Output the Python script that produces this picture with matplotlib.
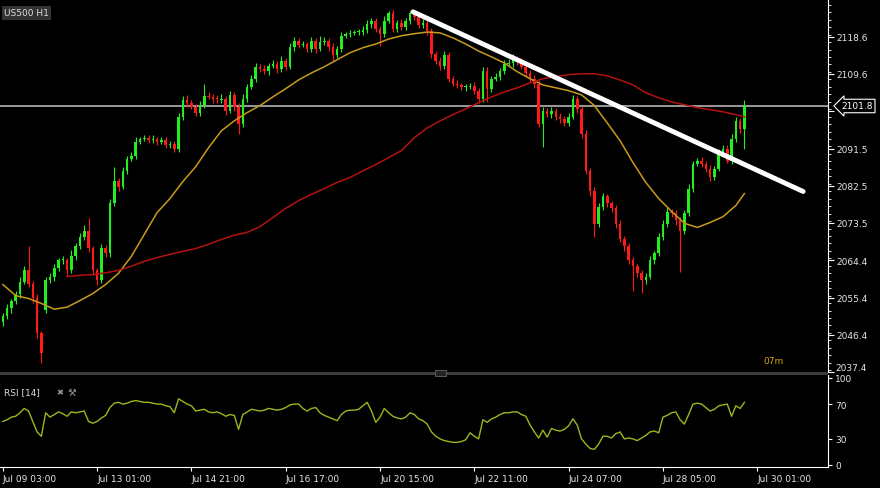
import numpy as np
import matplotlib.pyplot as plt
import matplotlib.transforms as mtransforms
from matplotlib.patches import Rectangle

# 2-hour bars (close prices)
close = [
    2050.9, 2052.8, 2054.5, 2056.2, 2059.3, 2062.0, 2058.8, 2055.2, 2046.8, 2041.9,
    2059.6, 2060.5, 2062.5, 2064.4, 2064.4, 2062.0, 2065.4, 2067.8, 2070.2, 2071.6,
    2067.3, 2062.0, 2059.6, 2067.3, 2066.1, 2078.2, 2083.7, 2082.3, 2086.1, 2089.0,
    2089.8, 2093.2, 2093.9, 2094.1, 2093.6, 2093.9, 2093.2, 2093.6, 2092.4, 2092.7,
    2091.5, 2099.2, 2103.3, 2102.6, 2101.6, 2100.2, 2102.1, 2104.3, 2104.0, 2103.5,
    2103.3, 2103.5, 2100.6, 2104.5, 2101.6, 2097.5, 2103.5, 2106.4, 2108.4, 2111.3,
    2110.8, 2110.3, 2111.5, 2112.0, 2110.8, 2112.7, 2111.3, 2116.1, 2117.6, 2116.6,
    2116.8, 2115.6, 2117.6, 2115.6, 2117.3, 2117.6, 2116.1, 2114.2, 2115.6, 2118.8,
    2119.2, 2119.5, 2119.7, 2119.7, 2120.2, 2121.7, 2122.4, 2120.5, 2119.2, 2122.4,
    2124.3, 2120.5, 2121.9, 2120.9, 2122.4, 2124.3, 2123.4, 2121.4, 2121.9, 2120.0,
    2114.4, 2112.7, 2111.5, 2114.2, 2108.4, 2107.2, 2106.9, 2106.4, 2106.4, 2106.7,
    2105.5, 2103.5, 2110.3, 2106.0, 2108.4, 2108.9, 2110.3, 2112.0, 2112.2, 2113.2,
    2112.5, 2111.3, 2109.8, 2108.4, 2107.2, 2097.5, 2100.6, 2099.9, 2100.6, 2099.2,
    2098.7, 2097.7, 2099.2, 2103.5, 2101.1, 2095.1, 2086.1, 2081.3, 2073.3, 2077.4,
    2079.9, 2078.2, 2077.0, 2073.3, 2069.7, 2067.8, 2064.4, 2063.0, 2061.3, 2059.6,
    2060.5, 2064.4, 2066.1, 2070.2, 2073.3, 2076.2, 2075.8, 2074.1, 2071.6, 2075.8,
    2081.8, 2087.8, 2088.6, 2087.8, 2086.6, 2084.7, 2086.6, 2090.3, 2091.5, 2088.6,
    2093.9, 2098.2, 2096.3, 2101.8,
]
first_open = 2049.5
gap_open = {10: 2052.5}

up_wick = [
    0.8, 1.0, 0.6, 0.9, 1.2, 1.0, 5.8, 0.7, 1.1, 0.6,
    0.9, 0.8, 1.0, 0.7, 1.2, 0.6, 1.5, 0.9, 0.8, 1.5,
    3.0, 0.7, 0.6, 1.0, 0.8, 1.1, 3.4, 0.7, 0.9, 0.6,
    0.8, 1.0, 0.5, 0.7, 0.6, 0.9, 0.5, 0.8, 0.6, 0.7,
    0.6, 1.0, 0.9, 1.2, 0.7, 0.8, 1.0, 2.9, 0.8, 0.6,
    0.9, 1.1, 0.7, 1.0, 0.8, 0.9, 1.2, 0.7, 1.0, 0.8,
    0.6, 0.9, 0.7, 1.0, 0.8, 1.1, 0.6, 0.9, 1.0, 0.7,
    0.8, 0.6, 1.0, 0.7, 1.4, 0.8, 0.6, 0.9, 0.7, 1.0,
    0.6, 0.8, 0.5, 0.7, 0.9, 1.0, 0.8, 0.6, 0.7, 1.1,
    0.4, 0.8, 0.7, 0.9, 0.6, 0.4, 0.3, 0.8, 0.9, 0.7,
    0.8, 0.6, 1.0, 0.9, 0.7, 0.6, 0.8, 0.5, 0.7, 0.6,
    0.8, 0.6, 1.0, 0.9, 0.7, 0.8, 0.6, 1.0, 0.9, 1.1,
    0.7, 0.8, 0.6, 0.7, 0.9, 0.8, 1.0, 0.7, 0.9, 0.6,
    0.8, 0.7, 0.9, 1.0, 0.8, 0.6, 0.9, 0.7, 0.8, 1.0,
    0.9, 0.7, 0.6, 0.8, 1.0, 0.7, 0.9, 0.8, 0.6, 0.7,
    0.8, 1.0, 0.7, 0.9, 0.8, 1.1, 0.7, 0.8, 0.9, 0.7,
    1.0, 0.8, 0.7, 0.9, 0.6, 0.8, 0.7, 1.0, 0.9, 0.8,
    1.0, 0.9, 0.8, 1.5,
]
low_wick = [
    0.9, 0.7, 1.0, 0.6, 0.8, 0.7, 0.9, 1.0, 1.2, 2.4,
    0.8, 0.7, 1.0, 0.6, 0.9, 1.3, 0.7, 0.8, 0.6, 0.9,
    0.8, 1.0, 1.2, 0.7, 0.9, 0.8, 0.6, 1.0, 0.7, 0.8,
    0.6, 0.9, 0.7, 0.6, 0.8, 0.7, 0.9, 0.6, 0.8, 0.7,
    0.9, 0.8, 0.7, 1.0, 0.6, 0.9, 0.8, 0.7, 0.6, 0.9,
    0.7, 0.8, 1.0, 0.6, 0.9, 2.4, 0.8, 0.7, 0.6, 0.9,
    0.8, 0.7, 0.9, 0.6, 1.0, 0.7, 0.8, 0.6, 0.9, 0.7,
    0.6, 0.8, 0.7, 0.9, 0.6, 0.8, 1.0, 1.5, 0.7, 0.8,
    0.6, 0.7, 0.5, 0.8, 0.6, 0.7, 0.9, 0.8, 2.8, 0.7,
    0.6, 0.9, 0.7, 0.8, 0.6, 0.7, 0.9, 0.8, 0.6, 1.0,
    0.9, 0.8, 1.0, 0.7, 0.9, 0.6, 0.8, 0.7, 0.9, 0.6,
    0.8, 1.0, 0.7, 3.2, 0.9, 0.6, 0.8, 0.7, 0.6, 0.9,
    0.8, 0.6, 0.9, 0.7, 1.0, 0.9, 5.6, 0.8, 1.0, 0.7,
    0.9, 0.8, 0.7, 0.6, 0.9, 1.0, 0.8, 1.2, 3.1, 0.9,
    0.7, 0.8, 0.9, 1.0, 0.8, 1.1, 0.9, 6.1, 1.0, 3.0,
    0.9, 0.7, 0.8, 0.6, 0.9, 0.7, 0.8, 1.0, 9.9, 0.8,
    0.7, 0.9, 0.6, 0.8, 0.7, 1.0, 0.8, 0.6, 0.9, 0.7,
    0.8, 0.7, 1.1, 4.8,
]

rsi = [
    50, 52, 55, 56, 60, 65, 62, 50, 38, 33,
    60, 55, 58, 61, 59, 56, 61, 60, 61, 62,
    50, 48, 50, 54, 57, 66, 71, 72, 70, 71,
    73, 74, 73, 72, 72, 71, 70, 70, 68, 67,
    60, 76, 73, 70, 68, 62, 63, 64, 61, 60,
    61, 59, 56, 58, 57, 41, 58, 61, 64, 63,
    62, 63, 65, 64, 63, 64, 66, 69, 70, 70,
    65, 62, 65, 66, 60, 57, 55, 53, 51, 58,
    62, 63, 63, 64, 68, 72, 62, 49, 55, 65,
    60, 56, 54, 53, 55, 60, 58, 53, 51, 47,
    38, 33, 30, 28, 27, 26, 26, 27, 29, 37,
    33, 30, 52, 49, 53, 55, 58, 60, 60, 61,
    61, 58, 56, 46, 38, 31, 40, 32, 42, 40,
    39, 41, 45, 53, 46, 30, 24, 19, 18, 24,
    33, 33, 31, 36, 38, 30, 31, 30, 28, 31,
    34, 38, 39, 37, 55, 57, 60, 61, 52, 47,
    58, 70, 71, 70, 66, 62, 64, 68, 69, 70,
    56, 68, 65, 72,
]

# moving averages, read every 3 bars (plus the last bar)
ma_fast = [
    2058.6, 2055.9, 2055.2, 2054.0, 2052.6, 2053.1, 2054.7, 2056.4, 2058.6, 2061.3,
    2065.4, 2070.7, 2076.0, 2079.4, 2083.5, 2087.1, 2091.7, 2095.8, 2098.2, 2100.2,
    2101.9, 2104.0, 2106.0, 2108.1, 2109.8, 2111.3, 2113.0, 2114.7, 2115.9, 2116.8,
    2118.0, 2118.8, 2119.3, 2119.7, 2119.5, 2118.3, 2116.8, 2115.1, 2113.7, 2112.2,
    2110.1, 2108.4, 2106.9, 2106.2, 2105.5, 2104.5, 2101.9, 2097.7, 2093.4, 2088.1,
    2083.3, 2079.4, 2076.3, 2073.4, 2072.4, 2073.6, 2075.0, 2077.7, 2080.6,
]
ma_slow = [
    2060.5, 2060.8, 2061.0, 2061.4, 2062.0, 2063.0, 2064.2, 2065.1, 2065.9, 2066.6,
    2067.3, 2068.3, 2069.5, 2070.5, 2071.2, 2072.6, 2074.8, 2077.0, 2078.9, 2080.4,
    2081.8, 2083.3, 2084.5, 2086.1, 2087.6, 2089.3, 2091.0, 2094.1, 2096.5, 2098.2,
    2099.7, 2101.1, 2102.6, 2104.0, 2105.2, 2106.2, 2107.4, 2108.4, 2108.9, 2109.4,
    2109.6, 2109.6, 2109.1, 2108.1, 2106.9, 2105.0, 2103.8, 2102.8, 2102.1, 2101.4,
    2100.9, 2100.4, 2099.7, 2099.2,
]

trend_bars = [95.7, 186.7]
trend_price = [2124.6, 2081.1]
last_price = 2101.8

price_ticks = [2037.4, 2046.4, 2055.4, 2064.4, 2073.5, 2082.5, 2091.5, 2100.6, 2109.6, 2118.6]
rsi_ticks = [0, 30, 70, 100]
date_labels = ['Jul 09 03:00', 'Jul 13 01:00', 'Jul 14 21:00', 'Jul 16 17:00', 'Jul 20 15:00',
               'Jul 22 11:00', 'Jul 24 07:00', 'Jul 28 05:00', 'Jul 30 01:00']
date_step = 22

W, H = 880, 489
fig = plt.figure(figsize=(W / 100, H / 100), dpi=100, facecolor='black')
ax = fig.add_axes([0, 1 - 373 / H, 828 / W, 373 / H], facecolor='black')
ax2 = fig.add_axes([0, 1 - 468 / H, 828 / W, (468 - 376) / H], facecolor='black')

n = len(close)
x = np.arange(n)
c = np.array(close)
opens = np.r_[first_open, c[:-1]]
for k, v in gap_open.items():
    opens[k] = v
hi = np.maximum(opens, c) + np.array(up_wick)
lo = np.minimum(opens, c) - np.array(low_wick)
col = np.where(c >= opens, '#22ee22', '#ff1a1a')

ax.axhline(last_price, color='#b4b4b4', lw=1.2, zorder=1)
ax.vlines(x, lo, hi, colors=col, lw=0.8, zorder=2)
body = np.where(np.abs(c - opens) < 0.25, 0.25, c - opens)
ax.bar(x, body, bottom=opens, width=0.6, color=col, lw=0, zorder=2)

fast_idx = list(range(0, n - 2, 3)) + [n - 1]
slow_idx = list(range(15, n - 2, 3)) + [n - 1]
ax.plot(fast_idx, ma_fast, color='#c89b18', lw=1.1, zorder=3)
ax.plot(slow_idx, ma_slow, color='#b3120f', lw=1.1, zorder=3)
ax.plot(trend_bars, trend_price, color='white', lw=3.5, solid_capstyle='round', zorder=5)

ax.set_xlim(-0.65, 192.5)
ax.set_ylim(2037.4, 2127.7)
ax.yaxis.tick_right()
# the bottom label is placed by hand, the 2100.6 one sits under the price tag
labels = ['' if t in (2037.4, 2100.6) else f'{t:.1f}' for t in price_ticks]
ax.set_yticks(price_ticks, labels)
ax.yaxis.set_minor_locator(plt.MultipleLocator(1.805))
ax.tick_params(axis='y', which='major', colors='white', labelcolor='#e6e6e6',
               direction='out', length=4, width=0.8, labelsize=6.5, pad=2)
ax.tick_params(axis='y', which='minor', colors='white', direction='out', length=2, width=0.6)
ax.tick_params(axis='x', bottom=False, labelbottom=False)
for s in ['left', 'top', 'bottom']:
    ax.spines[s].set_visible(False)
ax.spines['right'].set_color('white')
ax.spines['right'].set_linewidth(0.8)

# price tag
tr = mtransforms.blended_transform_factory(ax.transAxes, ax.transData)
ax.text(1.016, last_price, f'{last_price:.1f}', transform=tr, ha='left', va='center',
        fontsize=6.5, color='white', clip_on=False, zorder=10,
        bbox=dict(boxstyle='larrow,pad=0.25', fc='black', ec='white', lw=0.8))
fig.text(835 / W, 1 - 369 / H, '2037.4', color='#e6e6e6', fontsize=6.5, va='center')

# RSI panel
ax2.plot(x, rsi, color='#9ab81c', lw=1.0)
ax2.set_xlim(-0.65, 192.5)
ax2.set_ylim(-2.3, 103.4)
ax2.yaxis.tick_right()
ax2.set_yticks(rsi_ticks)
ax2.set_xticks(np.arange(len(date_labels)) * date_step, date_labels)
for lbl in ax2.get_xticklabels():
    lbl.set_ha('left')
ax2.tick_params(axis='both', colors='white', labelcolor='#e6e6e6', direction='out',
                length=3, width=0.8, labelsize=6.5, pad=2)
for s in ['left', 'top']:
    ax2.spines[s].set_visible(False)
for s in ['right', 'bottom']:
    ax2.spines[s].set_color('white')
    ax2.spines[s].set_linewidth(0.8)

# panel separator and labels
fig.add_artist(Rectangle((0, 1 - 376 / H), 828 / W, 3 / H, transform=fig.transFigure,
                         color='#3c3c3c', lw=0))
fig.add_artist(Rectangle((435 / W, 1 - 377 / H), 11 / W, 6 / H, transform=fig.transFigure,
                         fc='#222222', ec='#666666', lw=0.6))
fig.text(4 / W, 1 - 14 / H, 'US500 H1', color='#dddddd', fontsize=6.5, va='center',
         bbox=dict(facecolor='#333333', edgecolor='none', pad=1.5))
fig.text(763 / W, 1 - 362 / H, '07m', color='#d4a50c', fontsize=6.5, va='center')
fig.text(4 / W, 1 - 393 / H, 'RSI [14]', color='#dddddd', fontsize=6.5, va='center')
fig.text(56 / W, 1 - 393 / H, '✖', color='#999999', fontsize=6, va='center')
fig.text(68 / W, 1 - 393 / H, '⚒', color='#999999', fontsize=7, va='center')

fig.savefig('out.png', dpi=100, facecolor='black')
